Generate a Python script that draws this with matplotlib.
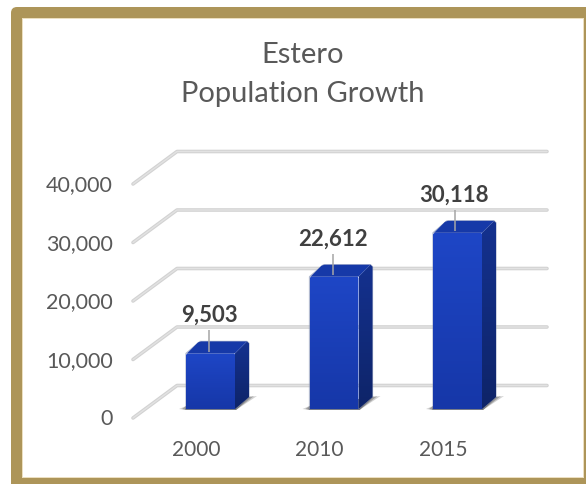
import numpy as np
import matplotlib
matplotlib.use('Agg')
import matplotlib.pyplot as plt
from matplotlib.patches import FancyBboxPatch, Polygon, Rectangle

# Chart data
title_lines = ['Estero', 'Population Growth']
years = ['2000', '2010', '2015']
population = [9503, 22612, 30118]
value_ticks = [0, 10000, 20000, 30000, 40000]

# Layout constants, all in pixels
W, H = 586, 485
BASE_Y = 410        # bar foot line
PX_PER_VALUE = 0.00585
FIRST_X = 210.5     # centre of the first bar
STEP_X = 123.5      # distance between bars
HALF_BAR = 24.5
DEPTH_X, DEPTH_Y = 14, 12

GOLD = '#ad9559'
GREY_TEXT = '#595959'
DARK_TEXT = '#404040'

plt.rcParams['font.family'] = ['Lato', 'DejaVu Sans']

fig = plt.figure(figsize=(W / 100, H / 100), dpi=100, facecolor='white')

# Frame around the chart, in plain pixel coordinates
bg = fig.add_axes([0, 0, 1, 1], zorder=0)
bg.set_xlim(0, W)
bg.set_ylim(H, 0)
bg.axis('off')
bg.add_patch(FancyBboxPatch((14, 11), W + 40, H + 40, boxstyle='round,pad=3,rounding_size=6',
                            fc=GOLD, ec='none'))
bg.add_patch(Rectangle((22, 19), W - 22 - 3.3 + 1, 478 - 19 + 1, fc='#ecdfc0', ec='none'))
bg.add_patch(Rectangle((23, 20), W - 23 - 3.3, 478 - 20, fc='white', ec='none'))

# Main axes: x is the category index, y is the population
ax = fig.add_axes([0, 0, 1, 1], zorder=1)
ax.patch.set_alpha(0)
ax.axis('off')
ax.set_xlim(-FIRST_X / STEP_X, (W - FIRST_X) / STEP_X)
ax.set_ylim((BASE_Y - H) / PX_PER_VALUE, BASE_Y / PX_PER_VALUE)


def pos(i, v, px=0, py=0):
    # data coords for category i and value v, nudged by a pixel offset (py up)
    return i + px / STEP_X, v + py / PX_PER_VALUE


def gradient(poly_pts, top_color, bottom_color, zorder):
    # fill a polygon with a vertical gradient
    pts = np.array(poly_pts)
    rgb = matplotlib.colors.to_rgb
    col = np.linspace(rgb(top_color), rgb(bottom_color), 64)[:, None, :]
    extent = [pts[:, 0].min(), pts[:, 0].max(), pts[:, 1].min(), pts[:, 1].max()]
    im = ax.imshow(col, extent=extent, aspect='auto', origin='upper', zorder=zorder,
                   interpolation='bilinear')
    clip = Polygon(pts, closed=True, transform=ax.transData, fc='none', ec='none')
    ax.add_patch(clip)
    im.set_clip_path(clip)


# Back wall gridlines with the slanted floor/side edge
for v in value_ticks:
    wall_y = 23.5
    xs = [pos(0, v, 133 - FIRST_X, -9)[0], pos(0, v, 177 - FIRST_X, wall_y)[0], pos(0, v, 547 - FIRST_X, wall_y)[0]]
    ys = [pos(0, v, 0, -9)[1], pos(0, v, 0, wall_y)[1], pos(0, v, 0, wall_y)[1]]
    ax.plot(xs, ys, color='#d2d2d2', lw=2.6, solid_joinstyle='round', solid_capstyle='round', zorder=2)
    ax.plot(xs, ys, color='#e2e2e2', lw=1.0, solid_joinstyle='round', solid_capstyle='round', zorder=2)
    ax.annotate(f'{v:,}', xy=pos(0, v, 113 - FIRST_X, -9.5), ha='right', va='center',
                fontsize=15.5, color=GREY_TEXT, zorder=6)

# Bars as three visible faces of a box
for i, (year, v) in enumerate(zip(years, population)):
    hb = HALF_BAR
    dx, dy = DEPTH_X, DEPTH_Y
    label_px = -1.5 if i < 2 else -3

    # soft floor shadow, a wedge running out from the foot of the bar
    for grow, alpha in [(8, 0.22), (5, 0.30), (2, 0.40)]:
        shadow = [pos(i, 0, -hb - grow + 1, 0), pos(i, 0, -hb, 3), pos(i, 0, hb + dx, dy),
                  pos(i, 0, hb + dx + grow, dy + 1), pos(i, 0, hb + 1, -1), pos(i, 0, -hb, -1)]
        ax.add_patch(Polygon(shadow, closed=True, fc='#303030', ec='none', alpha=alpha, zorder=3))

    front = [pos(i, 0, -hb, 0), pos(i, 0, hb, 0), pos(i, v, hb, -1), pos(i, v, hb - 1, 0),
             pos(i, v, -hb + 1.5, 0), pos(i, v, -hb, -1.5)]
    side = [pos(i, 0, hb, 0), pos(i, 0, hb + dx, dy), pos(i, v, hb + dx, dy - 2),
            pos(i, v, hb + dx - 2, dy), pos(i, v, hb, 0)]
    top = [pos(i, v, -hb, -1), pos(i, v, -hb + dx - 2, dy - 1), pos(i, v, -hb + dx + 1, dy),
           pos(i, v, hb + dx - 2, dy), pos(i, v, hb, 0), pos(i, v, -hb + 1, 0)]

    # thin pale outline around the box
    outline = [pos(i, 0, -hb, 0), pos(i, 0, hb, 0), pos(i, 0, hb + dx, dy), pos(i, v, hb + dx, dy - 2),
               pos(i, v, hb + dx - 2, dy), pos(i, v, -hb + dx, dy), pos(i, v, -hb, 0)]
    ax.add_patch(Polygon(outline, closed=True, fc='none', ec='#7f8cb0', lw=0.9, alpha=0.6,
                         joinstyle='round', zorder=3.5))

    gradient(side, '#14318f', '#0e2468', 4)
    gradient(front, '#1e46c6', '#1637a8', 4.1)
    ax.add_patch(Polygon(top, closed=True, fc='#1639a8', ec='none', zorder=4.2))

    # leader line and value label
    lx = pos(i, v, label_px)[0]
    ax.plot([lx, lx], [pos(i, v, 0, 1.5)[1], pos(i, v, 0, 23)[1]], color='#a6a6a6', lw=1.1,
            zorder=5, solid_capstyle='butt')
    ax.annotate(f'{v:,}', xy=pos(i, v, label_px, 39), ha='center', va='center',
                fontsize=16, fontweight='bold', color=DARK_TEXT, zorder=6)

    # category label sits under the slanted floor, left of the bar centre
    ax.annotate(year, xy=pos(i, 0, -14.5, -40), ha='center', va='center',
                fontsize=15, color=GREY_TEXT, zorder=6)

# Two line title
bg.text(303, 55, title_lines[0], ha='center', va='center', fontsize=21, color=GREY_TEXT)
bg.text(303, 94, title_lines[1], ha='center', va='center', fontsize=21, color=GREY_TEXT)

fig.savefig('out.png', dpi=100)
